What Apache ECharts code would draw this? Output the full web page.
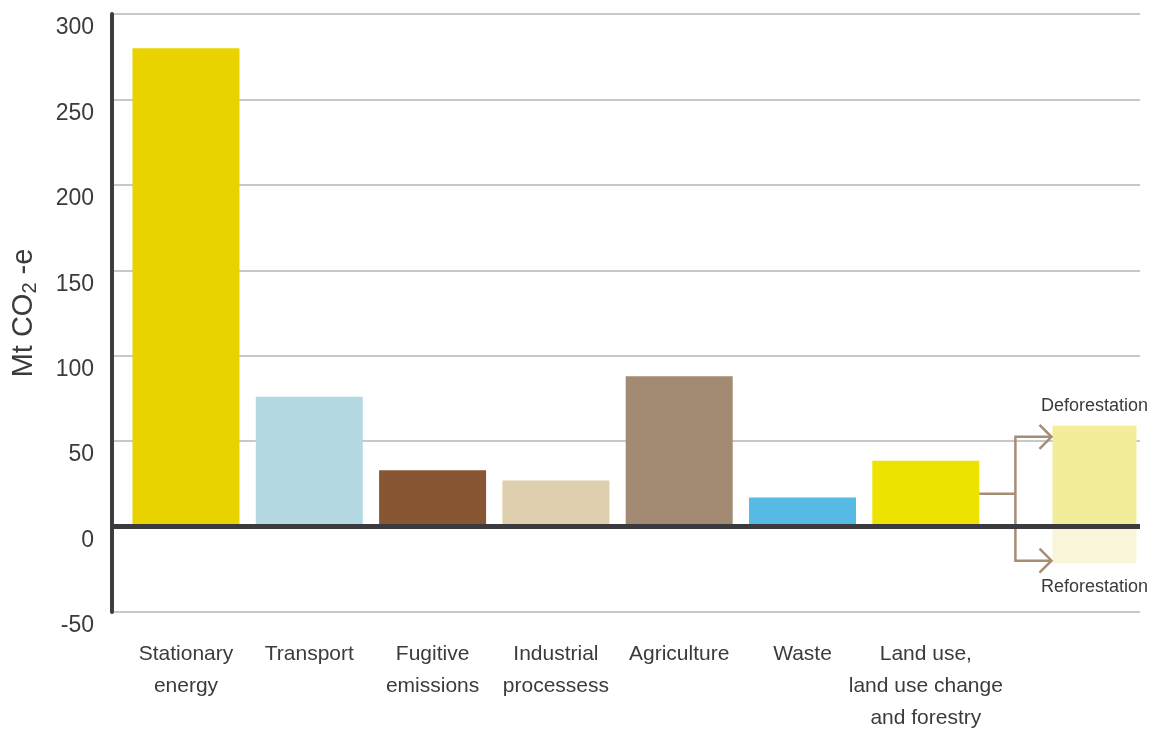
<!DOCTYPE html>
<html>
<head>
<meta charset="utf-8">
<script src="https://cdn.jsdelivr.net/npm/echarts@6/dist/echarts.min.js"></script>
<style>
  html, body { margin: 0; padding: 0; background: #ffffff; }
  #chart { width: 1153px; height: 733px; }
</style>
</head>
<body>
<div id="chart"></div>
<script>
// Emissions by sector, Mt CO2-e
const categories = [
  'Stationary\nenergy',
  'Transport',
  'Fugitive\nemissions',
  'Industrial\nprocessess',
  'Agriculture',
  'Waste',
  'Land use,\nland use change\nand forestry'
];
const emissions = [280, 76, 33, 27, 88, 17, 38.5];
const sectorColors = ['#e8d300', '#b4d9e3', '#875733', '#dfcfae', '#a38a72', '#55bbe5', '#ece300'];

// Split of the land use figure
const forestryNames = ['Deforestation', 'Reforestation'];
const forestryValues = [59, -21.5];
const forestryColors = ['#f3ed9b', '#f8f5d8'];

// Value axis ticks
const yMin = -50;
const yMax = 300;
const yStep = 50;

const FONT = '"Liberation Sans", Arial, sans-serif';
const TEXT = '#3b3b3b';
const SECTOR_BAR = 107;
const FOREST_BAR = 84;
const X_MIN = -0.6;
const X_MAX = 7.737;
const FOREST_POS = 7.368;   // horizontal slot of the forestry split bar

const sectorData = emissions.map((v, i) => ({
  value: [i, v],
  itemStyle: { color: sectorColors[i] }
}));

const forestryData = forestryValues.map((v, i) => ({
  value: [FOREST_POS, v],
  name: forestryNames[i],
  itemStyle: { color: forestryColors[i] },
  label: {
    show: true,
    position: v >= 0 ? 'top' : 'bottom',
    distance: v >= 0 ? 11 : 15,
    formatter: forestryNames[i],
    fontFamily: FONT,
    fontSize: 18,
    color: TEXT
  }
}));

const landIdx = categories.length - 1;

const chart = echarts.init(document.getElementById('chart'), null, { renderer: 'canvas' });

chart.setOption({
  animation: false,
  backgroundColor: '#ffffff',
  grid: { left: 112, right: 13, top: 14, bottom: 121, containLabel: false, outerBoundsMode: 'none' },
  xAxis: [
    {
      type: 'value',
      min: X_MIN,
      max: X_MAX,
      axisLine: { show: false },
      axisTick: { show: false },
      splitLine: { show: false },
      axisLabel: {
        customValues: categories.map((c, i) => i),
        formatter: v => categories[Math.round(v)] || '',
        fontFamily: FONT,
        fontSize: 21,
        lineHeight: 32,
        color: TEXT,
        margin: 26,
        align: 'center',
        hideOverlap: false
      }
    },
    {
      type: 'value',
      min: X_MIN,
      max: X_MAX,
      show: false
    }
  ],
  yAxis: {
    type: 'value',
    min: yMin,
    max: yMax,
    interval: yStep,
    name: 'Mt CO{sub|2} -e',
    nameLocation: 'middle',
    nameGap: 72,
    nameTextStyle: {
      fontFamily: FONT,
      fontSize: 29,
      color: TEXT,
      rich: {
        sub: { fontFamily: FONT, fontSize: 20, color: TEXT, padding: [12, 0, 0, 0] }
      }
    },
    axisLine: { show: true, onZero: false, lineStyle: { color: '#3e3e42', width: 4 } },
    axisTick: { show: false },
    splitLine: { show: true, lineStyle: { color: '#c8c8c8', width: 2 } },
    axisLabel: {
      fontFamily: FONT,
      fontSize: 23,
      lineHeight: 28,
      verticalAlign: 'top',
      color: TEXT,
      margin: 18
    }
  },
  series: [
    {
      type: 'bar',
      xAxisIndex: 0,
      barWidth: SECTOR_BAR,
      data: sectorData,
      markLine: {
        silent: true,
        symbol: ['none', 'none'],
        label: { show: false },
        lineStyle: { color: '#3b3b3f', width: 5, type: 'solid' },
        data: [{ yAxis: 0 }],
        z: 5
      }
    },
    {
      type: 'bar',
      xAxisIndex: 1,
      barWidth: FOREST_BAR,
      data: forestryData
    },
    {
      // Connector from land use bar to the deforestation / reforestation split
      type: 'custom',
      xAxisIndex: 0,
      z: 4,
      encode: { x: [0, 2], y: [1, 3, 4] },
      data: [[landIdx, emissions[landIdx], FOREST_POS, forestryValues[0], forestryValues[1]]],
      renderItem: function (params, api) {
        const landX = api.value(0), landV = api.value(1);
        const forX = api.value(2), defV = api.value(3), refV = api.value(4);
        const start = api.coord([landX, landV / 2]);
        const x0 = start[0] + SECTOR_BAR / 2;
        const tipX = api.coord([forX, 0])[0] - FOREST_BAR / 2 - 1;
        const jx = (x0 + tipX) / 2;
        const yUp = api.coord([forX, defV * 0.89])[1];
        const yDn = api.coord([forX, refV * 0.93])[1];
        const style = { stroke: '#a68d76', lineWidth: 2.5, fill: null, lineJoin: 'miter' };
        const head = 12;
        return {
          type: 'group',
          children: [
            { type: 'polyline', shape: { points: [[x0, start[1]], [jx, start[1]]] }, style: style },
            { type: 'polyline', shape: { points: [[tipX, yUp], [jx, yUp], [jx, yDn], [tipX, yDn]] }, style: style },
            { type: 'polyline', shape: { points: [[tipX - head, yUp - head], [tipX, yUp], [tipX - head, yUp + head]] }, style: style },
            { type: 'polyline', shape: { points: [[tipX - head, yDn - head], [tipX, yDn], [tipX - head, yDn + head]] }, style: style }
          ]
        };
      }
    }
  ]
});
</script>
</body>
</html>
